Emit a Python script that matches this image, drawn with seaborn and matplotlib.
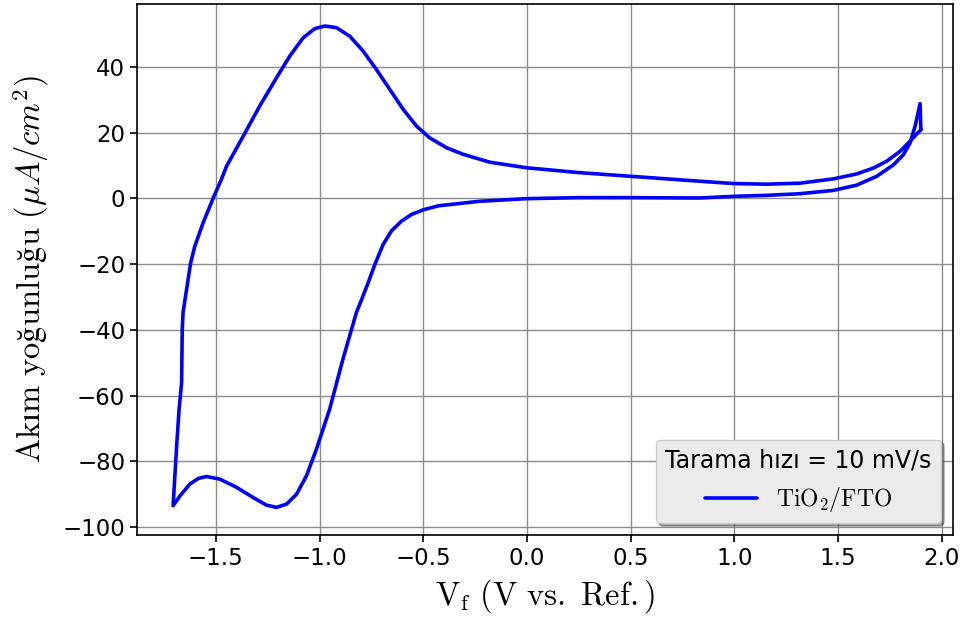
import matplotlib
matplotlib.use("Agg")
import matplotlib.pyplot as plt
import seaborn as sns
import pandas as pd

# Cyclic voltammogram of TiO2/FTO, one closed loop (potential in V, current density in uA/cm2)
# Reverse sweep: from the positive vertex down to the negative vertex
upper_v = [1.900, 1.848, 1.800, 1.735, 1.671, 1.590, 1.477, 1.316, 1.155, 0.994,
           0.833, 0.500, 0.254, -0.003, -0.180, -0.308, -0.388, -0.469, -0.533,
           -0.597, -0.661, -0.726, -0.790, -0.854, -0.918, -0.975, -1.023, -1.079,
           -1.143, -1.207, -1.288, -1.368, -1.448, -1.473, -1.513, -1.561, -1.601,
           -1.622, -1.641, -1.658, -1.662, -1.665, -1.677, -1.689, -1.706]
upper_j = [20.9, 17.4, 14.3, 11.3, 9.2, 7.4, 5.9, 4.6, 4.3, 4.5,
           5.2, 6.7, 7.8, 9.3, 11.0, 13.4, 15.4, 18.4, 22.0,
           27.1, 33.1, 39.2, 44.8, 49.3, 51.9, 52.4, 51.6, 48.8,
           43.3, 36.7, 28.1, 18.9, 9.8, 5.8, 0.0, -7.4, -14.5,
           -19.8, -27.7, -34.7, -40.0, -56.0, -64.1, -75.3, -93.5]
# Forward sweep: from the negative vertex back up to the positive vertex
lower_v = [-1.673, -1.625, -1.585, -1.545, -1.481, -1.400, -1.320, -1.256, -1.207,
           -1.159, -1.111, -1.063, -1.015, -0.951, -0.887, -0.822, -0.797, -0.765,
           -0.733, -0.693, -0.653, -0.604, -0.556, -0.500, -0.428, -0.315, -0.228,
           -0.003, 0.254, 0.500, 0.833, 0.994, 1.155, 1.316, 1.477, 1.590, 1.687,
           1.768, 1.816, 1.848, 1.872, 1.896, 1.900]
lower_j = [-90.5, -86.9, -85.2, -84.6, -85.4, -87.9, -91.0, -93.3, -94.0,
           -93.0, -90.0, -84.4, -76.3, -64.1, -48.9, -34.7, -30.8, -25.6,
           -20.1, -14.0, -9.9, -6.9, -4.9, -3.5, -2.3, -1.5, -0.9,
           -0.1, 0.2, 0.2, 0.1, 0.6, 0.9, 1.4, 2.4, 4.0, 6.7,
           10.2, 13.3, 16.9, 21.9, 28.8, 20.9]

x_ticks = [-1.5, -1.0, -0.5, 0.0, 0.5, 1.0, 1.5, 2.0]
y_ticks = [-100, -80, -60, -40, -20, 0, 20, 40]

legend_title = "Tarama hızı = 10 mV/s"
series_label = r"$\mathrm{TiO_2/FTO}$"

df = pd.DataFrame({
    "V": upper_v + lower_v,
    "J": upper_j + lower_j,
    "sample": [series_label] * (len(upper_v) + len(lower_v)),
})

sns.set_theme(style="ticks")
plt.rcParams["font.family"] = ["DejaVu Sans"]
plt.rcParams["mathtext.fontset"] = "cm"
plt.rcParams["axes.edgecolor"] = "black"
plt.rcParams["axes.linewidth"] = 1.2
for key in ("text.color", "axes.labelcolor", "xtick.color", "ytick.color"):
    plt.rcParams[key] = "black"

fig = plt.figure(figsize=(9.65, 6.24), dpi=100)
ax = fig.add_axes([0.142, 0.1426, 0.8456, 0.851])

sns.lineplot(data=df, x="V", y="J", hue="sample", palette=["#0000ff"],
             sort=False, estimator=None, linewidth=2.6, ax=ax)
for line in ax.get_lines():
    line.set_solid_joinstyle("round")

ax.set_xlim(-1.88, 2.055)
ax.set_ylim(-102.4, 59.1)
ax.set_xticks(x_ticks)
ax.set_yticks(y_ticks)
ax.grid(True, color="#8c8c8c", linewidth=1.0)
ax.set_axisbelow(True)
ax.tick_params(axis="both", labelsize=16.5, length=5, width=1.2, color="black",
               direction="out")

ax.set_xlabel(r"$\mathrm{V_f\ (V\ vs.\ Ref.)}$", fontsize=23.5, labelpad=5)
ax.set_ylabel(r"$\mathrm{Akım\ yoğunluğu\ (}\mu A/cm^2\mathrm{)}$",
              fontsize=23.5, labelpad=8)

handles, labels = ax.get_legend_handles_labels()
leg = ax.legend(handles, labels, title=legend_title, loc="lower right",
                fontsize=17, title_fontsize=17, frameon=True, fancybox=True,
                shadow=True, facecolor="#ebebeb", edgecolor="#cccccc",
                framealpha=1.0, handlelength=2.2)

fig.savefig("out.png", dpi=100)
